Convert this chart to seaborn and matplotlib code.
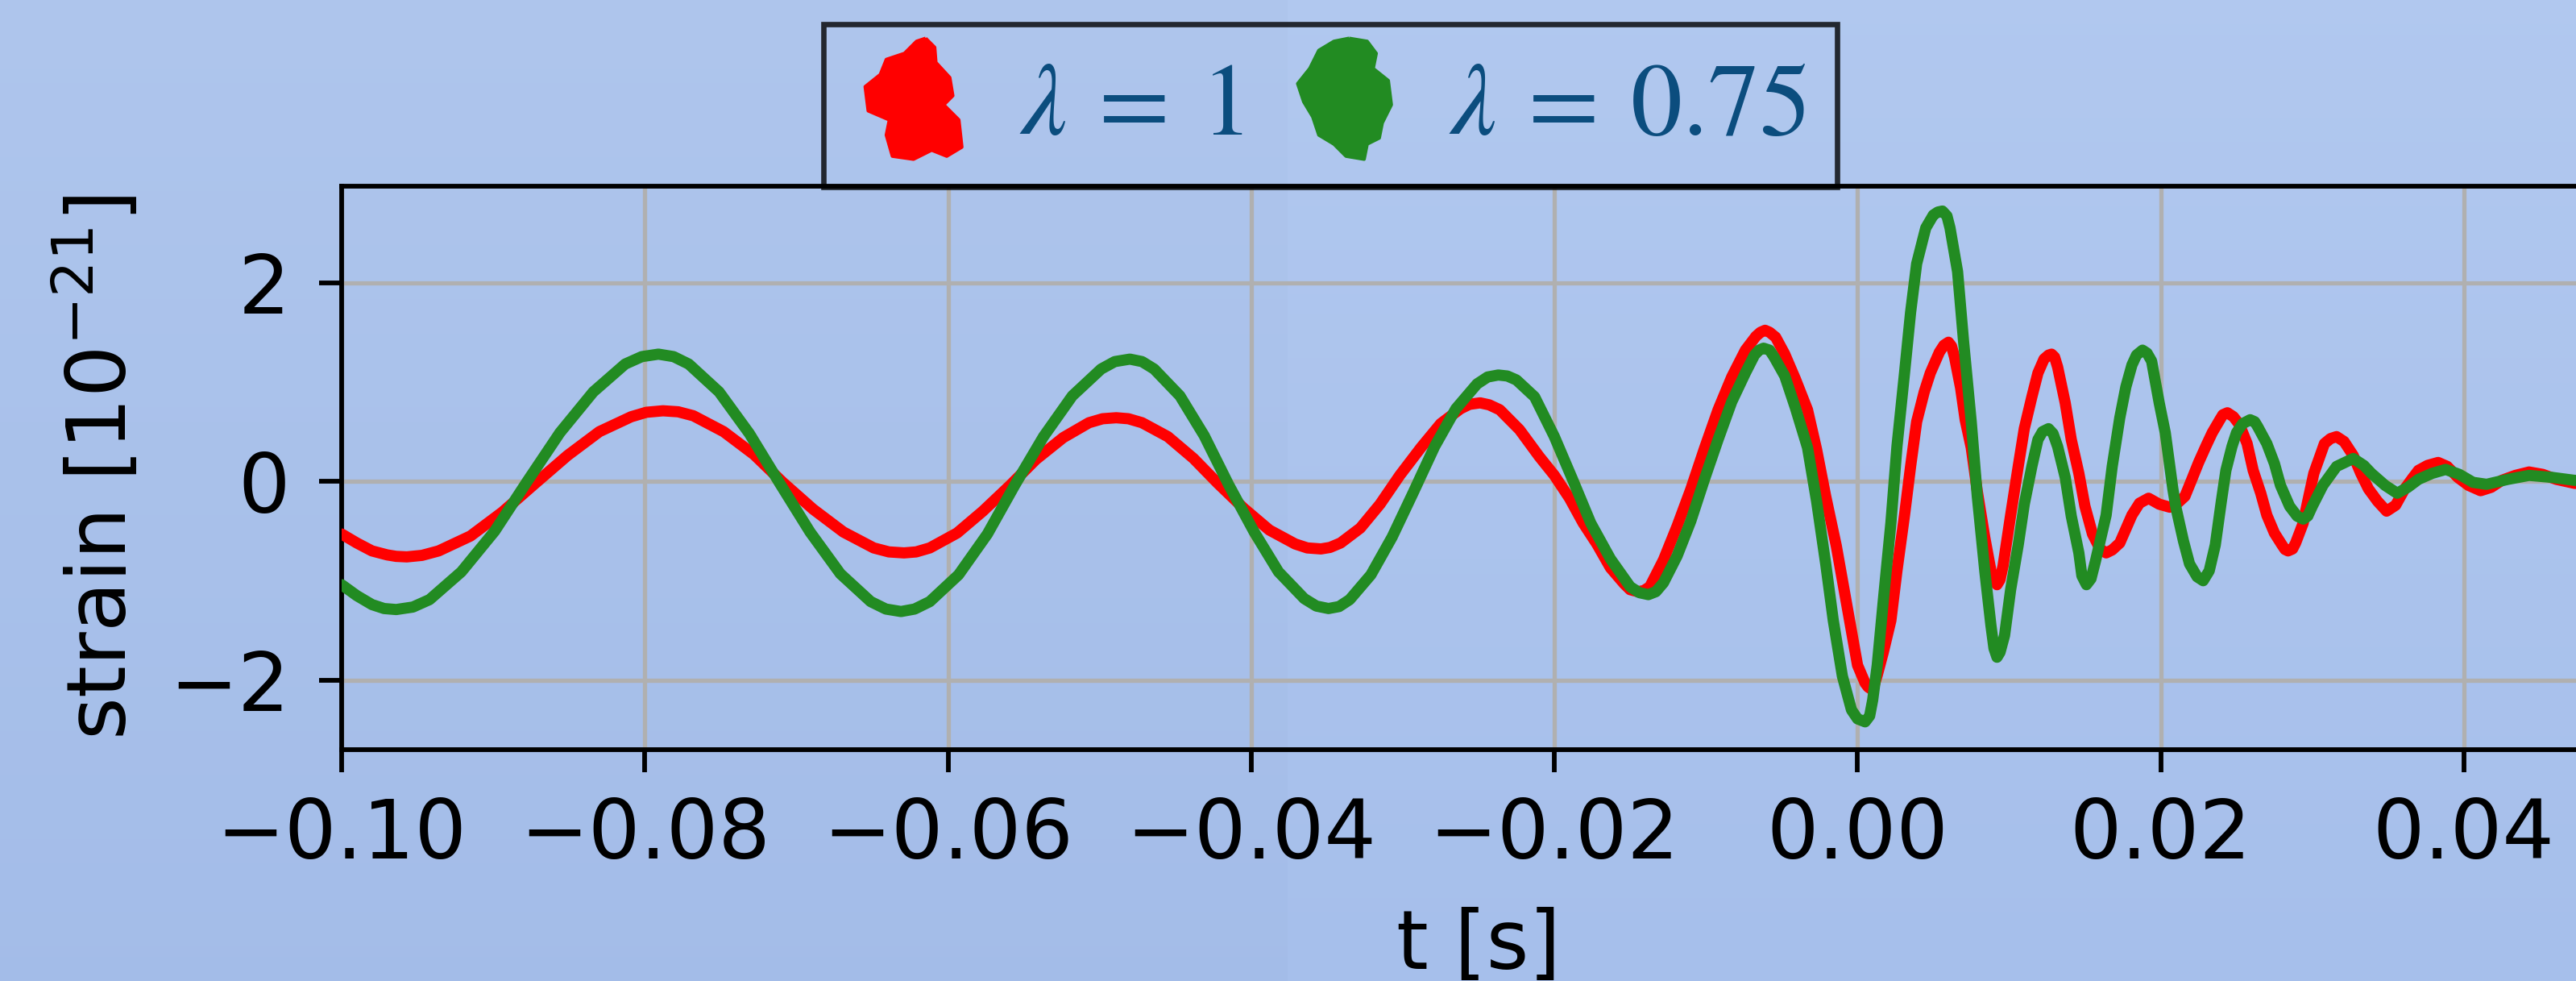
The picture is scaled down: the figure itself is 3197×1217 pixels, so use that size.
import numpy as np
import matplotlib
matplotlib.use("Agg")
import matplotlib.pyplot as plt
import seaborn as sns
from matplotlib.lines import Line2D
from matplotlib.path import Path
from matplotlib.font_manager import FontProperties

# (t [s], strain [1e-21])
red_points = [
    (-0.1000, -0.53), (-0.0990, -0.62), (-0.0980, -0.70), (-0.0970, -0.74), (-0.0964, -0.755),
    (-0.0957, -0.76), (-0.0947, -0.745), (-0.0936, -0.70), (-0.0915, -0.55), (-0.0894, -0.31),
    (-0.0873, -0.03), (-0.0851, 0.26), (-0.0830, 0.50), (-0.0809, 0.65), (-0.0799, 0.695),
    (-0.0788, 0.71), (-0.0778, 0.70), (-0.0768, 0.66), (-0.0748, 0.50), (-0.0728, 0.27),
    (-0.0709, -0.01), (-0.0689, -0.28), (-0.0669, -0.51), (-0.0649, -0.67), (-0.0639, -0.71),
    (-0.0629, -0.72), (-0.0621, -0.71), (-0.0612, -0.67), (-0.0594, -0.52), (-0.0577, -0.30),
    (-0.0559, -0.04), (-0.0542, 0.22), (-0.0524, 0.44), (-0.0507, 0.59), (-0.0498, 0.63),
    (-0.0489, 0.64), (-0.0481, 0.63), (-0.0472, 0.59), (-0.0455, 0.45), (-0.0438, 0.23),
    (-0.0422, -0.02), (-0.0405, -0.27), (-0.0388, -0.49), (-0.0371, -0.63), (-0.0363, -0.67),
    (-0.0354, -0.68), (-0.0348, -0.665), (-0.0341, -0.62), (-0.0328, -0.47), (-0.0315, -0.23),
    (-0.0302, 0.06), (-0.0288, 0.34), (-0.0275, 0.58), (-0.0262, 0.73), (-0.0256, 0.775),
    (-0.0249, 0.79), (-0.0243, 0.77), (-0.0236, 0.72), (-0.0223, 0.52), (-0.0210, 0.25),
    (-0.0200, 0.06), (-0.0190, -0.17), (-0.0181, -0.42), (-0.0172, -0.63), (-0.0163, -0.87),
    (-0.0154, -1.03), (-0.0150, -1.09), (-0.0145, -1.11), (-0.0141, -1.10), (-0.0137, -1.06),
    (-0.0128, -0.79), (-0.0119, -0.45), (-0.0110, -0.08), (-0.0101, 0.33), (-0.0092, 0.72),
    (-0.0083, 1.05), (-0.0074, 1.32), (-0.0067, 1.46), (-0.0064, 1.50), (-0.0061, 1.52),
    (-0.0058, 1.50), (-0.0054, 1.45), (-0.0048, 1.28), (-0.0041, 1.03), (-0.0033, 0.72),
    (-0.0027, 0.32), (-0.0021, -0.15), (-0.0014, -0.65), (-0.0007, -1.25), (0.0000, -1.85),
    (0.0005, -2.03), (0.0007, -2.07), (0.0009, -2.09), (0.0011, -2.05), (0.0013, -1.95),
    (0.0017, -1.72), (0.0022, -1.40), (0.0026, -0.90), (0.0031, -0.34), (0.0035, 0.15),
    (0.0039, 0.60), (0.0044, 0.90), (0.0048, 1.09), (0.0054, 1.30), (0.0057, 1.37),
    (0.0060, 1.40), (0.0062, 1.36), (0.0064, 1.25), (0.0068, 0.94), (0.0071, 0.62),
    (0.0075, 0.34), (0.0079, -0.10), (0.0084, -0.57), (0.0088, -0.90), (0.0090, -1.00),
    (0.0092, -1.04), (0.0094, -0.99), (0.0096, -0.85), (0.0101, -0.34), (0.0106, 0.15),
    (0.0110, 0.53), (0.0115, 0.85), (0.0119, 1.09), (0.0123, 1.23), (0.0126, 1.27),
    (0.0128, 1.28), (0.0130, 1.25), (0.0132, 1.15), (0.0137, 0.79), (0.0141, 0.42),
    (0.0146, 0.08), (0.0150, -0.25), (0.0155, -0.53), (0.0160, -0.68), (0.0164, -0.72),
    (0.0168, -0.69), (0.0173, -0.62), (0.0177, -0.48), (0.0181, -0.34), (0.0186, -0.22),
    (0.0192, -0.17), (0.0199, -0.23), (0.0206, -0.26), (0.0211, -0.22), (0.0216, -0.15),
    (0.0220, 0.00), (0.0225, 0.19), (0.0230, 0.36), (0.0234, 0.49), (0.0239, 0.62),
    (0.0241, 0.67), (0.0244, 0.69), (0.0248, 0.65), (0.0252, 0.57), (0.0257, 0.38),
    (0.0261, 0.11), (0.0266, -0.12), (0.0270, -0.34), (0.0275, -0.52), (0.0280, -0.64),
    (0.0282, -0.685), (0.0284, -0.70), (0.0287, -0.68), (0.0289, -0.62), (0.0294, -0.42),
    (0.0297, -0.20), (0.0301, 0.08), (0.0305, 0.25), (0.0308, 0.38), (0.0312, 0.43),
    (0.0316, 0.45), (0.0321, 0.40), (0.0327, 0.26), (0.0332, 0.08), (0.0337, -0.075),
    (0.0343, -0.20), (0.0349, -0.30), (0.0355, -0.24), (0.0361, -0.075), (0.0366, 0.03),
    (0.0370, 0.11), (0.0376, 0.16), (0.0383, 0.19), (0.0389, 0.15), (0.0396, 0.04),
    (0.0403, -0.04), (0.0411, -0.094), (0.0418, -0.06), (0.0425, 0.01), (0.0434, 0.06),
    (0.0443, 0.094), (0.0452, 0.07), (0.0461, 0.02), (0.0473, -0.02), (0.0485, -0.03),
    (0.0500, -0.01),
]
green_points = [
    (-0.1000, -1.04), (-0.0990, -1.15), (-0.0980, -1.24), (-0.0972, -1.28), (-0.0964, -1.29),
    (-0.0953, -1.265), (-0.0942, -1.19), (-0.0921, -0.91), (-0.0899, -0.50), (-0.0878, -0.01),
    (-0.0856, 0.49), (-0.0834, 0.90), (-0.0813, 1.18), (-0.0802, 1.255), (-0.0791, 1.28),
    (-0.0781, 1.255), (-0.0771, 1.18), (-0.0751, 0.90), (-0.0731, 0.48), (-0.0711, -0.02),
    (-0.0691, -0.51), (-0.0671, -0.93), (-0.0651, -1.21), (-0.0641, -1.285), (-0.0631, -1.31),
    (-0.0622, -1.285), (-0.0612, -1.21), (-0.0593, -0.94), (-0.0574, -0.53), (-0.0556, -0.04),
    (-0.0537, 0.45), (-0.0518, 0.86), (-0.0499, 1.13), (-0.0490, 1.205), (-0.0480, 1.23),
    (-0.0472, 1.205), (-0.0464, 1.13), (-0.0447, 0.86), (-0.0431, 0.46), (-0.0415, -0.03),
    (-0.0398, -0.51), (-0.0382, -0.91), (-0.0365, -1.18), (-0.0357, -1.255), (-0.0349, -1.28),
    (-0.0342, -1.26), (-0.0335, -1.19), (-0.0321, -0.94), (-0.0307, -0.56), (-0.0293, -0.11),
    (-0.0279, 0.35), (-0.0265, 0.73), (-0.0251, 0.98), (-0.0244, 1.05), (-0.0237, 1.07),
    (-0.0231, 1.06), (-0.0225, 1.02), (-0.0213, 0.85), (-0.0200, 0.45), (-0.0188, 0.02),
    (-0.0176, -0.42), (-0.0163, -0.78), (-0.0150, -1.06), (-0.0144, -1.12), (-0.0138, -1.14),
    (-0.0133, -1.11), (-0.0128, -1.02), (-0.0119, -0.75), (-0.0110, -0.40), (-0.0101, 0.02),
    (-0.0092, 0.42), (-0.0083, 0.80), (-0.0074, 1.09), (-0.0068, 1.27), (-0.0065, 1.32),
    (-0.0062, 1.34), (-0.0058, 1.32), (-0.0055, 1.25), (-0.0048, 1.06), (-0.0041, 0.74),
    (-0.0033, 0.34), (-0.0027, -0.20), (-0.0021, -0.83), (-0.0016, -1.40), (-0.0010, -1.96),
    (-0.0004, -2.30), (0.0000, -2.39), (0.0005, -2.42), (0.0008, -2.36), (0.0010, -2.20),
    (0.0013, -1.85), (0.0017, -1.20), (0.0022, -0.42), (0.0026, 0.35), (0.0031, 1.09),
    (0.0035, 1.70), (0.0039, 2.19), (0.0045, 2.55), (0.0050, 2.68), (0.0053, 2.71),
    (0.0056, 2.72), (0.0059, 2.67), (0.0061, 2.55), (0.0066, 2.11), (0.0070, 1.40),
    (0.0075, 0.60), (0.0079, -0.15), (0.0084, -0.91), (0.0088, -1.45), (0.0090, -1.68),
    (0.0092, -1.77), (0.0094, -1.72), (0.0097, -1.55), (0.0101, -1.09), (0.0106, -0.64),
    (0.0110, -0.23), (0.0115, 0.15), (0.0119, 0.42), (0.0122, 0.50), (0.0126, 0.53),
    (0.0129, 0.48), (0.0132, 0.35), (0.0137, 0.04), (0.0141, -0.35), (0.0146, -0.72),
    (0.0148, -0.95), (0.0151, -1.04), (0.0154, -0.98), (0.0157, -0.80), (0.0164, -0.34),
    (0.0168, 0.15), (0.0173, 0.64), (0.0177, 0.95), (0.0181, 1.17), (0.0184, 1.27),
    (0.0188, 1.32), (0.0191, 1.29), (0.0194, 1.21), (0.0199, 0.79), (0.0203, 0.49),
    (0.0208, -0.075), (0.0210, -0.26), (0.0215, -0.60), (0.0219, -0.83), (0.0224, -0.96),
    (0.0228, -1.00), (0.0232, -0.90), (0.0236, -0.64), (0.0240, -0.20), (0.0243, 0.11),
    (0.0247, 0.35), (0.0250, 0.49), (0.0254, 0.58), (0.0259, 0.62), (0.0262, 0.60),
    (0.0264, 0.55), (0.0270, 0.38), (0.0275, 0.18), (0.0279, -0.04), (0.0285, -0.25),
    (0.0290, -0.35), (0.0294, -0.38), (0.0297, -0.35), (0.0300, -0.25), (0.0307, -0.04),
    (0.0316, 0.15), (0.0327, 0.23), (0.0334, 0.16), (0.0339, 0.08), (0.0348, -0.04),
    (0.0356, -0.12), (0.0363, -0.06), (0.0370, 0.02), (0.0379, 0.08), (0.0388, 0.12),
    (0.0397, 0.07), (0.0406, -0.01), (0.0415, -0.03), (0.0429, 0.02), (0.0443, 0.06),
    (0.0458, 0.04), (0.0473, 0.01), (0.0485, 0.00), (0.0500, 0.00),
]
red_t, red_h = zip(*red_points)
green_t, green_h = zip(*green_points)

labels = [r"$\lambda\:=\:1$", r"$\lambda\:=\:0.75$"]
colors = ["#ff0000", "#228b22"]
x_ticks = [-0.10, -0.08, -0.06, -0.04, -0.02, 0.00, 0.02, 0.04]
y_ticks = [-2, 0, 2]

W, H, DPI = 3197, 1217, 200
fig = plt.figure(figsize=(W / DPI, H / DPI), dpi=DPI)

# soft blue gradient background
bg = fig.add_axes([0, 0, 1, 1], zorder=-10)
top = np.array([176, 199, 238]) / 255
bot = np.array([165, 190, 234]) / 255
gy = np.linspace(0, 1, 200)[:, None, None]
gx = np.linspace(0, 1, 2)[None, :, None]
grad = top * (1 - gy) + bot * gy + 0.01 * (gx - 0.5)
bg.imshow(np.clip(grad, 0, 1), aspect="auto", extent=[0, 1, 0, 1])
bg.axis("off")

# axes runs a bit past the right edge (the reference is cropped there)
ax = fig.add_axes([424 / W, 1 - 930 / H, (3246 - 424) / W, (930 - 231) / H])
ax.set_facecolor("none")

for t, h, c, z in [(red_t, red_h, colors[0], 3), (green_t, green_h, colors[1], 4)]:
    sns.lineplot(x=list(t), y=list(h), ax=ax, color=c, lw=5.0, estimator=None,
                 solid_joinstyle="round", solid_capstyle="round", zorder=z)

ax.set_xlim(-0.1, 0.05)
ax.set_ylim(-2.70, 2.97)
ax.set_xticks(x_ticks)
ax.set_yticks(y_ticks)
ax.set_xticklabels([f"{v:.2f}".replace("-", "\u2212") for v in x_ticks])
ax.set_yticklabels([str(v).replace("-", "\u2212") for v in y_ticks])
ax.grid(True, color="#b0b0b0", lw=1.9, zorder=0)
ax.set_axisbelow(True)
for s in ax.spines.values():
    s.set_linewidth(2.1)
    s.set_color("black")
ax.tick_params(axis="both", labelsize=36.5, width=2.1, length=10, color="black")
ax.tick_params(axis="x", pad=11)
ax.tick_params(axis="y", pad=13)

ax.set_xlabel("t [s]", fontsize=36.5, labelpad=14)
ax.set_ylabel(r"strain [$10^{-21}$]", fontsize=36.5)
ax.yaxis.set_label_coords(-0.0875, 0.5)

# scribbled blobs used as legend markers
red_blob = [(0.15, 1.0), (0.3, 0.85), (0.32, 0.6), (0.55, 0.35), (0.6, 0.05), (0.45, -0.1),
            (0.7, -0.35), (0.75, -0.8), (0.5, -0.95), (0.25, -0.85), (-0.05, -1.0), (-0.4, -0.95),
            (-0.5, -0.6), (-0.45, -0.35), (-0.8, -0.2), (-0.85, 0.2), (-0.6, 0.4), (-0.5, 0.65),
            (-0.2, 0.75), (0.0, 0.95), (0.15, 1.0)]
green_blob = [(0.05, 1.0), (0.35, 0.95), (0.5, 0.75), (0.45, 0.5), (0.7, 0.3), (0.75, -0.1),
              (0.6, -0.4), (0.55, -0.65), (0.35, -0.75), (0.3, -1.0), (0.0, -0.95), (-0.2, -0.75),
              (-0.45, -0.6), (-0.55, -0.3), (-0.7, -0.05), (-0.8, 0.25), (-0.6, 0.5), (-0.45, 0.8),
              (-0.2, 0.95), (0.05, 1.0)]
handles = []
for blob, c in zip([red_blob, green_blob], colors):
    handles.append(Line2D([], [], ls="none", marker=Path(blob), markersize=54,
                          markerfacecolor=c, markeredgecolor=c, markeredgewidth=1.5))

prop = FontProperties(family="DejaVu Sans", size=46, math_fontfamily="stix")
leg = fig.legend(handles, labels, loc="lower center", bbox_to_anchor=(1651 / W, 1 - 232 / H),
                 ncol=2, prop=prop, frameon=True, fancybox=False, edgecolor="black",
                 facecolor="none", borderpad=0.3, handlelength=1.2,
                 handletextpad=0.4, columnspacing=0.4, borderaxespad=0)
leg.get_frame().set_linewidth(2.4)
for t in leg.get_texts():
    t.set_color("#0b4d7e")

fig.savefig("out.png", dpi=DPI)
